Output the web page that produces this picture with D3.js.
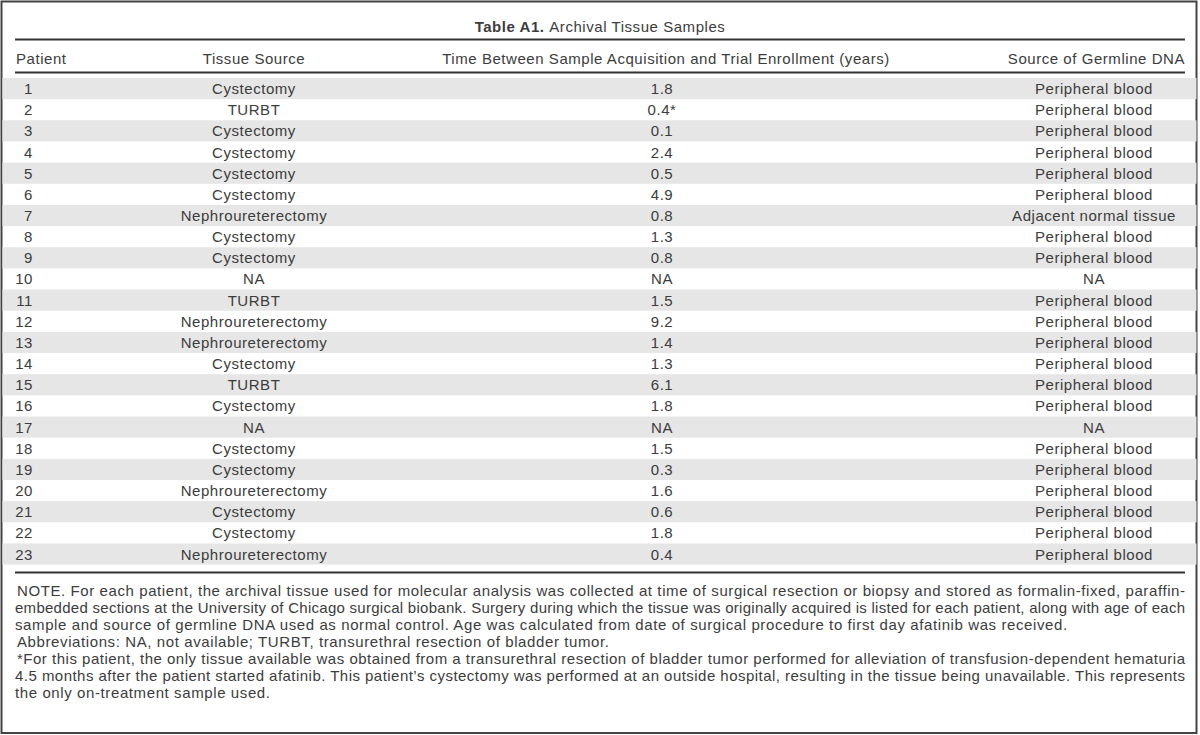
<!DOCTYPE html>
<html>
<head>
<meta charset="utf-8">
<script src="https://cdn.jsdelivr.net/npm/d3@7"></script>
<style>
  html, body { margin: 0; padding: 0; background: #fff; }
  svg { display: block; }
  text { font-family: "Liberation Sans", Arial, Helvetica, sans-serif; fill: #3c3c3c; letter-spacing: 0.55px; }
</style>
</head>
<body>
<svg id="chart" width="1200" height="735"></svg>
<script>
// ---------- DATA ----------
const titleBold = "Table A1.";
const titleRest = "Archival Tissue Samples";
const headers = ["Patient", "Tissue Source", "Time Between Sample Acquisition and Trial Enrollment (years)", "Source of Germline DNA"];
const patients = [1,2,3,4,5,6,7,8,9,10,11,12,13,14,15,16,17,18,19,20,21,22,23];
const tissueSource = ["Cystectomy","TURBT","Cystectomy","Cystectomy","Cystectomy","Cystectomy","Nephroureterectomy","Cystectomy","Cystectomy","NA","TURBT","Nephroureterectomy","Nephroureterectomy","Cystectomy","TURBT","Cystectomy","NA","Cystectomy","Cystectomy","Nephroureterectomy","Cystectomy","Cystectomy","Nephroureterectomy"];
const timeYears = ["1.8","0.4*","0.1","2.4","0.5","4.9","0.8","1.3","0.8","NA","1.5","9.2","1.4","1.3","6.1","1.8","NA","1.5","0.3","1.6","0.6","1.8","0.4"];
const germlineSource = ["Peripheral blood","Peripheral blood","Peripheral blood","Peripheral blood","Peripheral blood","Peripheral blood","Adjacent normal tissue","Peripheral blood","Peripheral blood","NA","Peripheral blood","Peripheral blood","Peripheral blood","Peripheral blood","Peripheral blood","Peripheral blood","NA","Peripheral blood","Peripheral blood","Peripheral blood","Peripheral blood","Peripheral blood","Peripheral blood"];
const noteLines = [
  "NOTE. For each patient, the archival tissue used for molecular analysis was collected at time of surgical resection or biopsy and stored as formalin-fixed, paraffin-",
  "embedded sections at the University of Chicago surgical biobank. Surgery during which the tissue was originally acquired is listed for each patient, along with age of each",
  "sample and source of germline DNA used as normal control. Age was calculated from date of surgical procedure to first day afatinib was received.",
  "Abbreviations: NA, not available; TURBT, transurethral resection of bladder tumor.",
  "*For this patient, the only tissue available was obtained from a transurethral resection of bladder tumor performed for alleviation of transfusion-dependent hematuria",
  "4.5 months after the patient started afatinib. This patient\u2019s cystectomy was performed at an outside hospital, resulting in the tissue being unavailable. This represents",
  "the only on-treatment sample used."
];
const noteJustified = [true, true, false, false, true, true, false];
const noteIndent = [true, false, false, true, true, false, false];

// ---------- LAYOUT ----------
const left = 15, right = 1185;
const svg = d3.select("#chart");

// outer border
svg.append("rect").attr("x", 1.5).attr("y", 1.5).attr("width", 1195).attr("height", 731.5)
  .attr("fill", "none").attr("stroke", "#444").attr("stroke-width", 2);

// title
const title = svg.append("text").attr("x", 600).attr("y", 31.5).attr("text-anchor", "middle")
  .style("font-size", "15px");
title.append("tspan").attr("font-weight", "bold").text(titleBold);
title.append("tspan").text("\u00a0" + titleRest);

const rule = yy => svg.append("line").attr("x1", left).attr("x2", right).attr("y1", yy).attr("y2", yy)
  .attr("stroke", "#333").attr("stroke-width", 2);

// rows
const y = d3.scaleBand().domain(patients).range([78, 564.6]).padding(0);

svg.append("g").selectAll("rect").data(patients.filter((d, i) => i % 2 === 0)).join("rect")
  .attr("x", 2.5).attr("width", 1194).attr("y", d => y(d)).attr("height", y.bandwidth())
  .attr("fill", "#e6e6e6");

rule(39.5);
rule(72.5);
rule(572.5);

// columns
const colX = d3.scaleOrdinal().domain([0, 1, 2, 3]).range([33, 254, 662, 1094]);
const colAnchorHeader = ["start", "middle", "middle", "end"];
const headerX = [16, 254, 666, 1185];

svg.append("g").selectAll("text").data(headers).join("text")
  .attr("x", (d, i) => headerX[i]).attr("y", 63.5)
  .attr("text-anchor", (d, i) => colAnchorHeader[i])
  .style("font-size", "15px").text(d => d);

const rows = svg.append("g").selectAll("g").data(patients).join("g")
  .attr("transform", d => `translate(0,${y(d) + y.bandwidth() / 2 + 5.5})`);

rows.append("text").attr("x", colX(0)).attr("text-anchor", "end").style("font-size", "15px").text(d => d);
rows.append("text").attr("x", colX(1)).attr("text-anchor", "middle").style("font-size", "15px")
  .text((d, i) => tissueSource[i]);
rows.append("text").attr("x", colX(2)).attr("text-anchor", "middle").style("font-size", "15px")
  .text((d, i) => timeYears[i]);
rows.append("text").attr("x", colX(3)).attr("text-anchor", "middle").style("font-size", "15px")
  .text((d, i) => germlineSource[i]);

// notes
const noteY = d3.scaleLinear().domain([0, 1]).range([595.5, 612.5]);
const notes = svg.append("g");
noteLines.forEach((t, i) => {
  const x0 = noteIndent[i] ? 17 : left;
  const tx = notes.append("text").attr("x", x0).attr("y", noteY(i))
    .style("font-size", "15px").text(t);
  if (noteJustified[i]) {
    tx.style("letter-spacing", "0px");
    const w0 = tx.node().getComputedTextLength();
    const ls = (right - x0 - w0) / (t.length - 1);
    tx.style("letter-spacing", ls + "px");
  } else {
    tx.style("letter-spacing", "0.6px");
  }
});
</script>
</body>
</html>
